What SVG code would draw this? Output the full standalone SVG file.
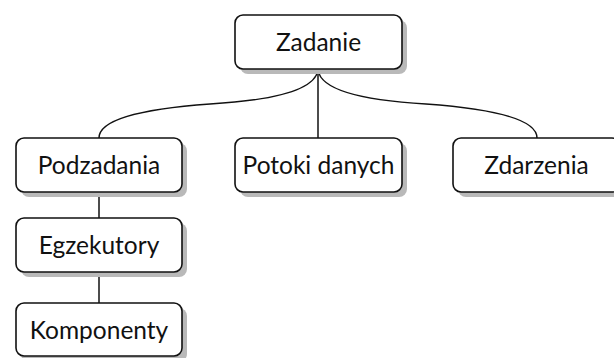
<svg xmlns="http://www.w3.org/2000/svg" width="614" height="358" viewBox="0 0 614 358">
<style>
.sh{fill:#b9b9b9;stroke:none}
.bx{fill:#fff;stroke:#111;stroke-width:1.6}
.t{font-family:Lato,"DejaVu Sans",sans-serif;font-size:24.5px;fill:#111;text-anchor:middle}
.c{fill:none;stroke:#111;stroke-width:1.5}
</style>
<rect width="614" height="358" fill="#fff"/>
<g id="connectors">
<path class="c" d="M318,70 Q314,98 210,104 Q99,112 99,138"/>
<path class="c" d="M318,70 Q322,98 426,104 Q537,112 537,138"/>
<path class="c" d="M318,70 V138"/>
<path class="c" d="M99,192 V218"/>
<path class="c" d="M99,272 V303"/>
</g>
<g id="zadanie">
<rect class="sh" x="240" y="20" width="167" height="54" rx="8"/>
<rect class="bx" x="235" y="15" width="167" height="54" rx="8"/>
<text class="t" x="318.5" y="51">Zadanie</text>
</g>
<g id="podzadania">
<rect class="sh" x="21" y="143" width="166" height="54" rx="8"/>
<rect class="bx" x="16" y="138" width="166" height="54" rx="8"/>
<text class="t" x="99" y="174">Podzadania</text>
</g>
<g id="potoki">
<rect class="sh" x="240" y="143" width="167" height="54" rx="8"/>
<rect class="bx" x="235" y="138" width="167" height="54" rx="8"/>
<text class="t" x="318.5" y="174">Potoki danych</text>
</g>
<g id="zdarzenia">
<rect class="sh" x="458" y="143" width="167" height="54" rx="8"/>
<rect class="bx" x="453" y="138" width="167" height="54" rx="8"/>
<text class="t" x="536.5" y="174">Zdarzenia</text>
</g>
<g id="egzekutory">
<rect class="sh" x="21" y="223" width="166" height="54" rx="8"/>
<rect class="bx" x="16" y="218" width="166" height="54" rx="8"/>
<text class="t" x="99" y="254">Egzekutory</text>
</g>
<g id="komponenty">
<rect class="sh" x="21" y="308" width="166" height="54" rx="8"/>
<rect class="bx" x="16" y="303" width="166" height="53" rx="8"/>
<text class="t" x="99" y="339">Komponenty</text>
</g>
</svg>
